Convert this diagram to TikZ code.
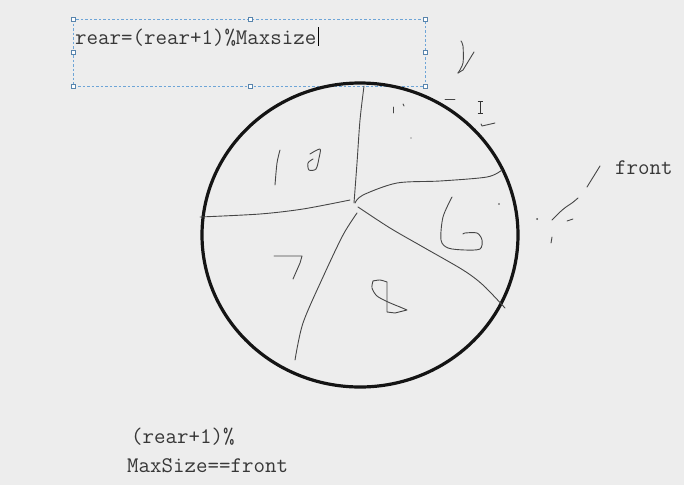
\documentclass[tikz,border=0pt]{standalone}
\usepackage{fontspec}
\definecolor{bgc}{RGB}{237,237,237}
\definecolor{inkc}{RGB}{70,70,70}
\definecolor{txtc}{RGB}{55,55,55}
\definecolor{selc}{RGB}{110,165,215}
\begin{document}
\begin{tikzpicture}[x=1pt,y=-1pt,
  pen/.style={draw=inkc,line width=0.9pt,line cap=round,line join=round},
  txt/.style={inner sep=0pt,anchor=base west,text=txtc,font=\ttfamily\fontsize{22.3}{26}\selectfont},
  handle/.style={draw=selc!80!black,fill=white,line width=0.5pt,minimum size=3.5pt,inner sep=0pt,rectangle}]
\fill[bgc] (0,0) rectangle (684,485);
\useasboundingbox (0,0) rectangle (684,485);
% selection box
\draw[selc,dashed,line width=0.7pt,dash pattern=on 2.5pt off 2pt] (73,19) rectangle (425,86);
\foreach \p [count=\i] in {(73,19),(250,19),(425,19),(73,52),(425,52),(73,86),(250,86),(425,86)}
  \node[handle] (h\i) at \p {};
\node[txt] (t1) at (75,44) {rear=(rear+1)\%Maxsize};
\draw[black,line width=0.8pt] (t1.base east) ++(1.5,-17) -- ++(0,19);
% circle
\draw[black!92,line width=3.2pt] (360,235) ellipse [x radius=158, y radius=152];
% dividing strokes
\draw[pen] plot[smooth] coordinates {(364,86) (360,120) (357,163) (354,203)};
\draw[pen] plot[smooth] coordinates {(200,217) (260,214) (303,209) (350,200)};
\draw[pen] plot[smooth] coordinates {(355,203) (363,195) (397,183) (440,181) (487,177) (502,170)};
\draw[pen] plot[smooth] coordinates {(358,207) (390,228) (423,247) (463,270) (483,285) (505,308)};
\draw[pen] plot[smooth] coordinates {(357,213) (343,235) (323,277) (303,323) (295,360)};
% digit 1
\draw[pen] plot[smooth] coordinates {(280,150) (277,163) (275,185)};
% small glyph
\draw[pen] plot[smooth] coordinates {(310,154) (320,149) (319,158) (316,169) (309,170) (308,163) (313,159)};
% 7
\draw[pen] (274,256) -- (302,256) -- (300,263) -- (293,279);
% 8
\draw[pen] plot[smooth] coordinates {(373,281) (380,280) (387,282)};
\draw[pen] (387,282) -- (387,312) -- (395,313) -- (407,310) -- (400,307);
\draw[pen] plot[smooth] coordinates {(400,307) (388,302) (377,296) (372,288) (373,281)};
% 6
\draw[pen] plot[smooth] coordinates {(452,197) (443,217) (441,240) (448,248) (465,250) (480,249) (482,240) (477,233) (465,233) (463,234)};
\fill[inkc] (499,204) circle (0.8);
% top interior marks
\draw[pen] (393,107) -- (393,113);
\draw[pen] (403,104) -- (404,106);
\fill[inkc] (411,138) circle (0.6);
% top right marks
\draw[pen] plot[smooth] coordinates {(461,41) (463,46) (463,63) (458,73)};
\draw[pen] (458,73) -- (463,70) -- (474,52);
\draw[pen] (445,99) -- (455,99);
\draw[black!80,line width=0.8pt] (480,101) -- (480,113) (477.5,101) -- (482.5,101) (477.5,113) -- (482.5,113);
\draw[pen] (481,124) -- (482,126) -- (495,123);
% front marks
\draw[pen] (600,166) -- (587,187);
\draw[pen] plot[smooth] coordinates {(578,198) (572,203) (566,207) (560,212) (552,220)};
\draw[pen] (567,221) -- (573,219);
\fill[inkc] (537,219) circle (1);
\draw[pen] (552,237) -- (551,243);
% texts
\node[txt] (t2) at (615,174) {front};
\node[txt] (t3) at (131,443) {(rear+1)\%};
\node[txt] (t4) at (127,472) {MaxSize==front};
\end{tikzpicture}
\end{document}
